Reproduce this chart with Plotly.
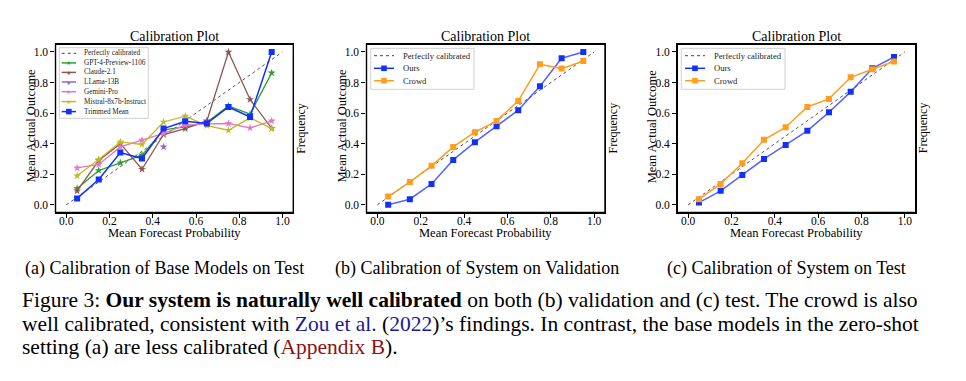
import plotly.graph_objects as go

# ---------------- data ----------------
bins = [0.05, 0.15, 0.25, 0.35, 0.45, 0.55, 0.65, 0.75, 0.85, 0.95]
diag = [0.0, 1.0]

gpt4 = [0.107, 0.225, 0.275, 0.325, 0.49, 0.51, 0.54, 0.647, 0.593, 0.863]
claude = [0.092, 0.29, 0.40, 0.233, 0.46, 0.499, 0.549, 1.0, 0.689, 0.50]
llama = [None, None, None, None, 0.379, None, None, None, None, None]
gemini = [0.242, 0.264, 0.379, 0.423, 0.467, 0.521, 0.53, 0.532, 0.503, 0.549]
mistral = [0.19, 0.297, 0.412, 0.395, 0.542, 0.58, 0.518, 0.488, 0.569, 0.499]
trimmed = [0.042, 0.166, 0.342, 0.303, 0.499, 0.547, 0.532, 0.64, 0.575, 1.0]

val_ours = [0.0, 0.037, 0.137, 0.294, 0.41, 0.514, 0.619, 0.776, 0.959, 1.0]
val_crowd = [0.054, 0.15, 0.255, 0.379, 0.475, 0.549, 0.68, 0.919, 0.891, 0.941]
test_ours = [0.015, 0.092, 0.196, 0.30, 0.392, 0.484, 0.606, 0.739, 0.893, 0.967]
test_crowd = [0.037, 0.137, 0.272, 0.425, 0.508, 0.64, 0.693, 0.834, 0.887, 0.937]

tick_vals = [0.0, 0.2, 0.4, 0.6, 0.8, 1.0]
tick_text = ["0.0", "0.2", "0.4", "0.6", "0.8", "1.0"]

base_names = ["GPT-4-Preview-1106", "Claude-2.1", "LLama-13B", "Gemini-Pro",
              "Mistral-8x7b-Instruct"]
base_series = [gpt4, claude, llama, gemini, mistral]
base_colors = ["#2ca02c", "#8c564b", "#9467bd", "#e377c2", "#bcbd22"]

subcaptions = ["(a) Calibration of Base Models on Test",
               "(b) Calibration of System on Validation",
               "(c) Calibration of System on Test"]

# ---------------- layout helpers ----------------
OFF = 8                      # page body margin
W, H = 966 - 2 * OFF, 381 - 2 * OFF
SERIF = "Liberation Serif"
BLUE = "#1030ff"
BLUE_LINE = "rgba(30,50,255,0.75)"
ORANGE = "#ff9d1f"


def px(x):
    return (x - OFF) / W


def py(y):
    return 1 - (y - OFF) / H


# axis boxes in window pixels (left, right), shared top/bottom
panels = [(55.5, 293.3), (366.5, 605.0), (677.3, 915.7)]
top, bottom = 44.3, 212.5

fig = go.Figure()

# panel a
fig.add_trace(go.Scatter(x=diag, y=diag, mode="lines",
                         line=dict(color="#555", width=1, dash="dot"),
                         xaxis="x", yaxis="y", showlegend=False))
for name, ys, col in zip(base_names, base_series, base_colors):
    fig.add_trace(go.Scatter(x=bins, y=ys, mode="lines+markers", name=name,
                             line=dict(color=col, width=1.3),
                             marker=dict(symbol="star", size=6, color=col),
                             connectgaps=False,
                             xaxis="x", yaxis="y", showlegend=False))
fig.add_trace(go.Scatter(x=bins, y=trimmed, mode="lines+markers", name="Trimmed Mean",
                         line=dict(color=BLUE, width=1.5),
                         marker=dict(symbol="square", size=6, color=BLUE),
                         xaxis="x", yaxis="y", showlegend=False))

# panels b, c
for i, (ours, crowd) in enumerate([(val_ours, val_crowd), (test_ours, test_crowd)]):
    xa = "x%d" % (i + 2)
    ya = "y%d" % (i + 2)
    fig.add_trace(go.Scatter(x=diag, y=diag, mode="lines",
                             line=dict(color="#555", width=1, dash="dot"),
                             xaxis=xa, yaxis=ya, showlegend=False))
    fig.add_trace(go.Scatter(x=bins, y=ours, mode="lines+markers", name="Ours",
                             line=dict(color=BLUE_LINE, width=1.5),
                             marker=dict(symbol="square", size=6, color=BLUE),
                             xaxis=xa, yaxis=ya, showlegend=False))
    fig.add_trace(go.Scatter(x=bins, y=crowd, mode="lines+markers", name="Crowd",
                             line=dict(color=ORANGE, width=1.5),
                             marker=dict(symbol="square", size=6, color=ORANGE),
                             xaxis=xa, yaxis=ya, showlegend=False))

axis_common = dict(range=[-0.05, 1.05], showgrid=False, zeroline=False,
                   showline=True, mirror=True, linecolor="#000000", linewidth=1.4,
                   ticks="outside", ticklen=4, tickwidth=1, tickcolor="#000000",
                   tickvals=tick_vals, ticktext=tick_text,
                   tickfont=dict(family=SERIF, size=11.5, color="black"))

layout = dict(width=W, height=H, margin=dict(l=0, r=0, t=0, b=0, autoexpand=False),
              paper_bgcolor="white", plot_bgcolor="white", showlegend=False)
for i, (l, r) in enumerate(panels):
    sfx = "" if i == 0 else str(i + 1)
    layout["xaxis" + sfx] = dict(axis_common, domain=[px(l), px(r)],
                                 anchor="y" + sfx, ticklabelstandoff=-7)
    layout["yaxis" + sfx] = dict(axis_common, domain=[py(bottom), py(top)],
                                 anchor="x" + sfx)
fig.update_layout(**layout)

ann = []
shapes = []
for i, (l, r) in enumerate(panels):
    sfx = "" if i == 0 else str(i + 1)
    # frame of the axes box
    shapes.append(dict(type="rect", xref="x%s domain" % sfx, yref="y%s domain" % sfx,
                       x0=0, x1=1, y0=0, y1=1, line=dict(color="black", width=1.4),
                       layer="above"))
    cx = (l + r) / 2
    ann.append(dict(text="Calibration Plot", x=px(cx), y=py(36), xref="paper",
                    yref="paper", showarrow=False, xanchor="center", yanchor="middle",
                    font=dict(family=SERIF, size=14, color="black")))
    ann.append(dict(text="Mean Forecast Probability", x=px(cx), y=py(233),
                    xref="paper", yref="paper", showarrow=False, xanchor="center",
                    yanchor="middle", font=dict(family=SERIF, size=12.5, color="black")))
    ann.append(dict(text="Mean Actual Outcome", x=px(l - 25), y=py(126),
                    xref="paper", yref="paper", showarrow=False, textangle=-90,
                    xanchor="center", yanchor="middle",
                    font=dict(family=SERIF, size=12.5, color="black")))
    ann.append(dict(text="Frequency", x=px(r + 7.5), y=py(128),
                    xref="paper", yref="paper", showarrow=False, textangle=-90,
                    xanchor="center", yanchor="middle",
                    font=dict(family=SERIF, size=12, color="black")))

# subcaptions
for cx, txt in zip([164, 477, 786], subcaptions):
    ann.append(dict(text=txt, x=px(cx), y=py(268), xref="paper", yref="paper",
                    showarrow=False, xanchor="center", yanchor="middle",
                    font=dict(family=SERIF, size=18, color="black")))

# figure caption
NAVY = "#1a1a99"
DRED = "#8f1111"
cap_lines = [
    "Figure 3: <b>Our system is naturally well calibrated</b> on both (b) validation and (c) test. The crowd is also",
    "well calibrated, consistent with <span style='color:%s'>Zou et al.</span> (<span style='color:%s'>2022</span>)’s findings. In contrast, the base models in the zero-shot" % (NAVY, NAVY),
    "setting (a) are less calibrated (<span style='color:%s'>Appendix B</span>)." % DRED,
]
for yy, txt in zip([300, 323.5, 347], cap_lines):
    ann.append(dict(text=txt, x=px(20), y=py(yy), xref="paper", yref="paper",
                    showarrow=False, xanchor="left", yanchor="middle",
                    font=dict(family=SERIF, size=21.5, color="black")))


# ---------------- custom legends ----------------
def legend(box, rows, line_x, text_x, entries, fsize):
    l, t, r, b = box
    shapes.append(dict(type="rect", xref="paper", yref="paper",
                       x0=px(l), x1=px(r), y0=py(b), y1=py(t),
                       line=dict(color="#d0d0d0", width=1), fillcolor="rgba(255,255,255,0.8)",
                       layer="above"))
    for yy, (label, col, kind) in zip(rows, entries):
        if kind == "dot":
            shapes.append(dict(type="line", xref="paper", yref="paper",
                               x0=px(line_x[0]), x1=px(line_x[1]), y0=py(yy), y1=py(yy),
                               line=dict(color="#444", width=1, dash="dot"), layer="above"))
        else:
            shapes.append(dict(type="line", xref="paper", yref="paper",
                               x0=px(line_x[0]), x1=px(line_x[1]), y0=py(yy), y1=py(yy),
                               line=dict(color=col, width=1.5), layer="above"))
            mx = (line_x[0] + line_x[1]) / 2
            if kind == "square":
                s = 2.8
                shapes.append(dict(type="rect", xref="paper", yref="paper",
                                   x0=px(mx - s), x1=px(mx + s), y0=py(yy + s), y1=py(yy - s),
                                   line=dict(width=0), fillcolor=col, layer="above"))
            else:
                ann.append(dict(text="★", x=px(mx), y=py(yy), xref="paper", yref="paper",
                                showarrow=False, xanchor="center", yanchor="middle",
                                font=dict(family="DejaVu Sans", size=6, color=col)))
        ann.append(dict(text=label, x=px(text_x), y=py(yy), xref="paper", yref="paper",
                        showarrow=False, xanchor="left", yanchor="middle",
                        font=dict(family=SERIF, size=fsize, color="#222")))


entries_a = [("Perfectly calibrated", "#444", "dot")] + \
    [(n, c, "star") for n, c in zip(base_names, base_colors)] + \
    [("Trimmed Mean", BLUE, "square")]
legend((59.3, 47.7, 148.3, 118.3), [53.3, 62.9, 72.4, 82.0, 91.7, 101.6, 111.6],
       (61.7, 76.0), 82.3, entries_a, 7.2)

entries_bc = [("Perfectly calibrated", "#444", "dot"), ("Ours", BLUE, "square"),
              ("Crowd", ORANGE, "square")]
legend((370.7, 48.3, 474.0, 89.3), [55.7, 68.3, 80.7], (374.0, 394.0), 400.7, entries_bc, 8.6)
legend((681.3, 48.3, 785.0, 89.3), [55.7, 68.3, 80.7], (685.0, 705.0), 711.7, entries_bc, 8.6)

fig.update_layout(annotations=ann, shapes=shapes)
fig.write_html("out.html")
